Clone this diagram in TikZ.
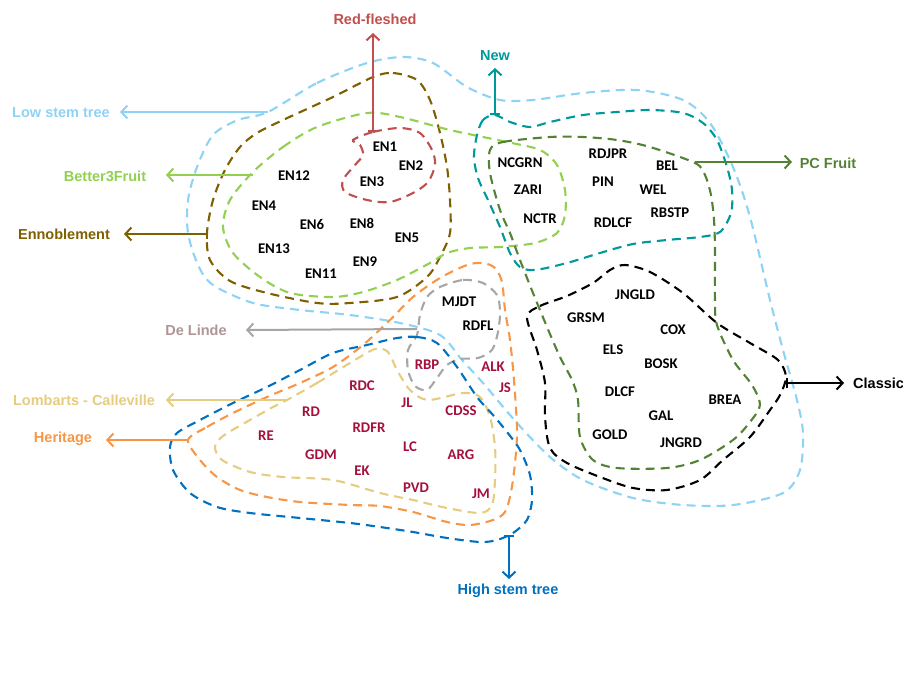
\documentclass[tikz,border=0pt]{standalone}
\usepackage{fontspec}
\setmainfont{Carlito}
\newfontfamily\arialfont{Liberation Sans}
\usetikzlibrary{arrows.meta}

\definecolor{lowstemc}{RGB}{142,211,244}
\definecolor{ennoblec}{RGB}{127,96,0}
\definecolor{betterc}{RGB}{146,208,80}
\definecolor{redfleshc}{RGB}{192,80,77}
\definecolor{newc}{RGB}{0,153,153}
\definecolor{pcfruitc}{RGB}{84,130,53}
\definecolor{delindec}{RGB}{166,166,166}
\definecolor{heritagec}{RGB}{247,150,70}
\definecolor{lombartc}{RGB}{229,204,128}
\definecolor{highstemc}{RGB}{0,112,192}
\definecolor{crimsonc}{RGB}{165,15,60}

\tikzstyle{arrow} = [line width=2pt, -{Straight Barb[length=6pt,width=13pt]}]
\tikzstyle{bararrow} = [line width=2pt, {Bar[width=10pt]}-{Straight Barb[length=6pt,width=13pt]}]
\tikzstyle{group} = [line width=2.1pt, dash pattern=on 9pt off 6pt]
\tikzstyle{cultivar} = [font=\bfseries\fontsize{14.8}{16}\selectfont, inner sep=0pt]
\tikzstyle{heritagecv} = [cultivar, text=crimsonc]
\tikzstyle{category} = [font=\arialfont\bfseries\fontsize{14.5}{16}\selectfont, inner sep=0pt]

\begin{document}
\begin{tikzpicture}[x=1pt, y=-1pt]
\useasboundingbox (0,0) rectangle (903,676);

% groups
\draw[group, lowstemc] plot[smooth cycle] coordinates {(268,112) (317,83) (367,63) (403,57) (433,63) (467,87) (500,100) (533,100) (583,93) (637,90) (683,100) (710,123) (733,167) (750,217) (770,300) (783,350) (797,400) (803,433) (800,470) (783,493) (733,505) (683,505) (633,498) (583,480) (550,457) (517,423) (483,383) (462,360) (440,335) (400,323) (350,315) (300,310) (253,303) (213,285) (198,265) (188,233) (188,200) (197,167) (213,135) (238,120)};
\draw[group, ennoblec] plot[smooth cycle] coordinates {(373,77) (393,73) (417,80) (430,100) (440,133) (447,167) (450,200) (450,233) (440,257) (427,277) (397,297) (350,303) (317,303) (267,293) (230,281) (210,260) (207,233) (213,200) (225,170) (240,147) (257,133) (283,120) (333,97)};
\draw[group, betterc] plot[smooth cycle] coordinates {(253,172) (283,147) (317,127) (367,113) (400,117) (450,130) (507,142) (540,150) (557,165) (565,190) (565,215) (557,233) (535,243) (500,247) (470,248) (447,253) (430,263) (397,280) (363,292) (333,297) (290,293) (260,277) (233,253) (223,227) (230,200)};
\draw[group, redfleshc] plot[smooth cycle] coordinates {(353,140) (373,132) (400,128) (420,133) (432,150) (435,165) (428,182) (413,193) (390,202) (367,200) (345,192) (343,180) (355,165) (363,155) (360,145)};
\draw[group, newc] plot[smooth cycle] coordinates {(495,115) (483,120) (477,135) (474,157) (478,178) (488,200) (500,227) (510,253) (520,267) (535,270) (567,263) (600,253) (633,244) (667,240) (700,237) (720,232) (731,213) (732,190) (727,167) (717,140) (703,123) (683,113) (650,110) (617,112) (583,115) (550,122) (530,127) (510,122)};
\draw[group, pcfruitc] plot[smooth cycle] coordinates {(490,150) (503,142) (550,137) (583,137) (617,140) (650,147) (695,163) (705,175) (711,195) (714,220) (715,250) (715,300) (717,325) (733,360) (752,385) (760,405) (750,422) (733,440) (700,460) (667,468) (617,468) (593,460) (580,437) (578,400) (572,380) (560,357) (547,327) (533,293) (520,260) (510,233) (500,210) (490,173)};
\draw[group, black] plot[smooth cycle] coordinates {(527,317) (540,306) (567,296) (593,283) (610,270) (625,265) (650,272) (683,293) (717,323) (750,343) (778,360) (786,377) (780,395) (770,410) (750,437) (723,460) (700,480) (667,490) (633,488) (600,477) (567,463) (550,448) (545,417) (545,383) (537,350)};
\draw[group, delindec] plot[smooth cycle] coordinates {(440,287) (463,280) (483,283) (497,295) (500,312) (498,332) (492,350) (478,358) (460,359) (447,365) (437,378) (427,390) (415,386) (408,370) (408,350) (417,335) (420,315) (427,297)};
\draw[group, heritagec] plot[smooth cycle] coordinates {(188,440) (207,427) (233,413) (267,397) (300,383) (333,367) (363,345) (390,320) (413,297) (440,278) (467,265) (483,263) (495,268) (502,282) (505,310) (510,340) (514,380) (517,430) (515,463) (511,492) (505,512) (493,520) (470,525) (447,522) (413,512) (380,506) (350,505) (300,502) (267,497) (240,490) (217,477) (200,460)};
\draw[group, lombartc] plot[smooth cycle] coordinates {(287,400) (317,383) (350,363) (375,349) (388,352) (397,370) (410,390) (428,400) (463,393) (480,397) (490,417) (495,447) (495,480) (492,505) (480,513) (447,508) (413,500) (380,493) (333,480) (283,477) (250,472) (222,460) (215,447) (223,436) (250,420) (273,407)};
\draw[group, highstemc] plot[smooth cycle] coordinates {(397,338) (417,337) (437,343) (457,367) (477,397) (493,415) (507,432) (520,450) (530,475) (532,500) (527,520) (513,533) (497,540) (480,542) (447,538) (413,532) (380,527) (350,523) (300,518) (250,513) (217,507) (190,493) (173,470) (170,447) (177,433) (200,420) (233,403) (267,387) (300,370) (333,353) (367,345)};

% cultivars
\node (en1) [cultivar] at (385,147) {EN1};
\node (en2) [cultivar] at (411,166) {EN2};
\node (en3) [cultivar] at (372,182) {EN3};
\node (en12) [cultivar] at (294,176) {EN12};
\node (en4) [cultivar] at (264,206) {EN4};
\node (en6) [cultivar] at (312,225) {EN6};
\node (en8) [cultivar] at (362,223) {EN8};
\node (en5) [cultivar] at (407,238) {EN5};
\node (en13) [cultivar] at (274,249) {EN13};
\node (en9) [cultivar] at (365,262) {EN9};
\node (en11) [cultivar] at (321,274) {EN11};

\node (ncgrn) [cultivar] at (520,163) {NCGRN};
\node (zari) [cultivar] at (528,190) {ZARI};
\node (nctr) [cultivar] at (540,219) {NCTR};
\node (rdjpr) [cultivar] at (608,154) {RDJPR};
\node (pin) [cultivar] at (603,182) {PIN};
\node (rdlcf) [cultivar] at (613,223) {RDLCF};
\node (bel) [cultivar] at (667,166) {BEL};
\node (wel) [cultivar] at (653,190) {WEL};
\node (rbstp) [cultivar] at (670,213) {RBSTP};

\node (jngld) [cultivar] at (635,295) {JNGLD};
\node (grsm) [cultivar] at (586,318) {GRSM};
\node (cox) [cultivar] at (673,330) {COX};
\node (els) [cultivar] at (613,350) {ELS};
\node (bosk) [cultivar] at (661,364) {BOSK};
\node (dlcf) [cultivar] at (620,392) {DLCF};
\node (brea) [cultivar] at (725,400) {BREA};
\node (gal) [cultivar] at (661,416) {GAL};
\node (gold) [cultivar] at (610,435) {GOLD};
\node (jngrd) [cultivar] at (681,443) {JNGRD};
\node (mjdt) [cultivar] at (459,302) {MJDT};
\node (rdfl) [cultivar] at (478,326) {RDFL};

\node (rbp) [heritagecv] at (427,365) {RBP};
\node (alk) [heritagecv] at (493,367) {ALK};
\node (js) [heritagecv] at (505,388) {JS};
\node (cdss) [heritagecv] at (461,411) {CDSS};
\node (jl) [heritagecv] at (407,403) {JL};
\node (rdc) [heritagecv] at (362,386) {RDC};
\node (rd) [heritagecv] at (311,412) {RD};
\node (re) [heritagecv] at (266,436) {RE};
\node (rdfr) [heritagecv] at (369,428) {RDFR};
\node (gdm) [heritagecv] at (321,455) {GDM};
\node (ek) [heritagecv] at (362,471) {EK};
\node (lc) [heritagecv] at (410,447) {LC};
\node (pvd) [heritagecv] at (416,488) {PVD};
\node (arg) [heritagecv] at (461,455) {ARG};
\node (jm) [heritagecv] at (481,494) {JM};

% categories
\node (redflesh) [category, text=redfleshc] at (375,19) {Red-fleshed};
\node (lowstem) [category, text=lowstemc] at (61,113) {Low stem tree};
\node (better) [category, text=betterc] at (105,176) {Better3Fruit};
\node (ennoble) [category, text=ennoblec] at (64,234) {Ennoblement};
\node (new) [category, text=newc] at (495,56) {New};
\node (pcfruit) [category, text=pcfruitc] at (828,163) {PC Fruit};
\node (classic) [category, text=black, anchor=west] at (853,383) {Classic};
\node (delinde) [category, text=delindec!90!red] at (196,330) {De Linde};
\node (lombart) [category, text=lombartc] at (84,400) {Lombarts - Calleville};
\node (heritage) [category, text=heritagec] at (63,439) {Heritage};
\node (highstem) [category, text=highstemc] at (508,591) {High stem tree};

\node[coordinate] (a_redflesh) at (373,132) {};
\node[coordinate] (b_redflesh) at (373,33) {};
\node[coordinate] (a_lowstem) at (268,112) {};
\node[coordinate] (b_lowstem) at (120,112) {};
\node[coordinate] (a_better) at (253,175) {};
\node[coordinate] (b_better) at (166,175) {};
\node[coordinate] (a_ennoble) at (208,234) {};
\node[coordinate] (b_ennoble) at (124,234) {};
\node[coordinate] (a_new) at (495,115) {};
\node[coordinate] (b_new) at (495,68) {};
\node[coordinate] (a_pcfruit) at (695,162) {};
\node[coordinate] (b_pcfruit) at (792,162) {};
\node[coordinate] (a_classic) at (786,383) {};
\node[coordinate] (b_classic) at (844,383) {};
\node[coordinate] (a_delinde) at (417,329) {};
\node[coordinate] (b_delinde) at (246,330) {};
\node[coordinate] (a_lombart) at (287,400) {};
\node[coordinate] (b_lombart) at (166,400) {};
\node[coordinate] (a_heritage) at (188,440) {};
\node[coordinate] (b_heritage) at (106,440) {};
\node[coordinate] (a_highstem) at (509,535) {};
\node[coordinate] (b_highstem) at (509,579) {};

\draw [bararrow, redfleshc] (a_redflesh) -- (b_redflesh);
\draw [arrow, lowstemc] (a_lowstem) -- (b_lowstem);
\draw [arrow, betterc] (a_better) -- (b_better);
\draw [bararrow, ennoblec] (a_ennoble) -- (b_ennoble);
\draw [bararrow, newc] (a_new) -- (b_new);
\draw [arrow, pcfruitc] (a_pcfruit) -- (b_pcfruit);
\draw [bararrow, black] (a_classic) -- (b_classic);
\draw [arrow, delindec] (a_delinde) -- (b_delinde);
\draw [arrow, lombartc] (a_lombart) -- (b_lombart);
\draw [arrow, heritagec] (a_heritage) -- (b_heritage);
\draw [bararrow, highstemc] (a_highstem) -- (b_highstem);

\end{tikzpicture}
\end{document}
